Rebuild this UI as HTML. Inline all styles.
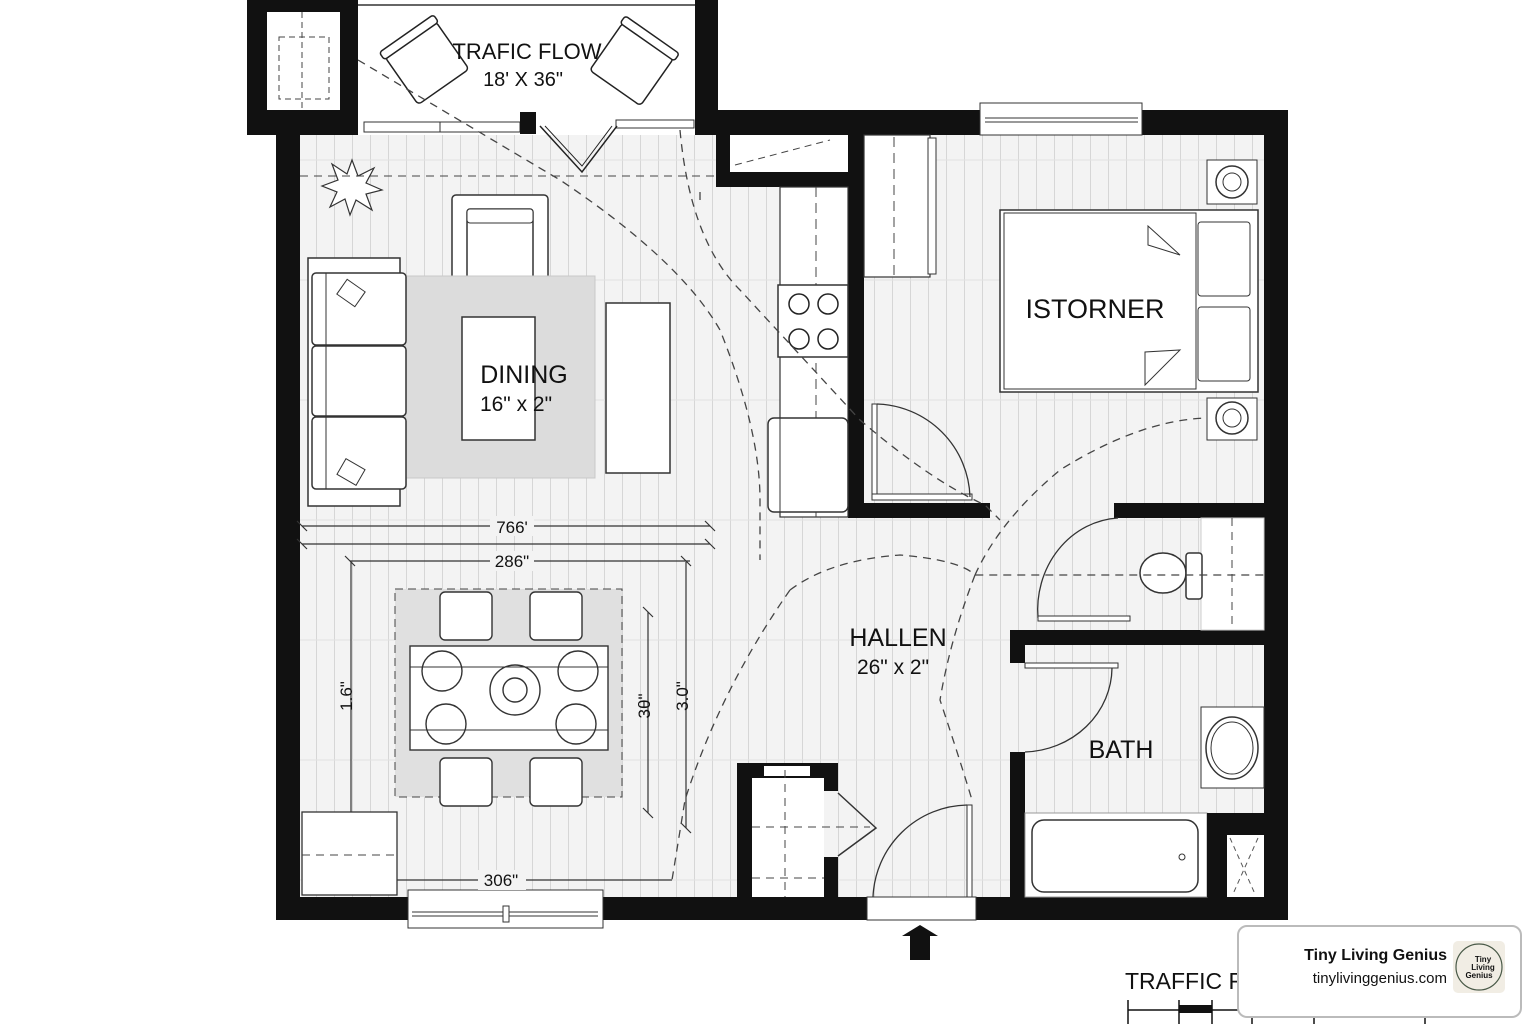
<!DOCTYPE html>
<html><head><meta charset="utf-8"><style>
html,body{margin:0;padding:0;background:#fff;width:1536px;height:1024px;overflow:hidden}
svg{display:block}
text{font-family:"Liberation Sans",sans-serif;fill:#111}
</style></head><body>
<svg width="1536" height="1024" viewBox="0 0 1536 1024" xmlns="http://www.w3.org/2000/svg">
<defs>
<pattern id="pl" x="298" y="0" width="18" height="120" patternUnits="userSpaceOnUse">
<rect width="18" height="120" fill="#f3f3f3"/>
<line x1="0.5" y1="0" x2="0.5" y2="120" stroke="#d6d6d6" stroke-width="1"/>
<line x1="0" y1="40" x2="18" y2="40" stroke="#e2e2e2" stroke-width="1"/>
</pattern>
</defs>
<!-- floor -->
<rect x="298" y="135" width="966" height="762" fill="url(#pl)"/>
<!-- balcony -->
<rect x="358" y="0" width="338" height="112" fill="#fff"/>
<line x1="358" y1="5" x2="696" y2="5" stroke="#333" stroke-width="1.5"/>
<rect x="247" y="0" width="111" height="135" fill="#111"/>
<rect x="267" y="12" width="73" height="98" fill="#fff"/>
<rect x="279" y="37" width="50" height="62" fill="none" stroke="#444" stroke-dasharray="6,4"/>
<line x1="302" y1="12" x2="302" y2="110" stroke="#444" stroke-dasharray="6,4"/>
<rect x="276" y="135" width="24" height="785" fill="#111"/>
<rect x="695" y="0" width="23" height="135" fill="#111"/>
<!-- balcony windows -->
<rect x="358" y="112" width="337" height="23" fill="#fff"/>
<rect x="364" y="122" width="156" height="10" fill="none" stroke="#333"/>
<line x1="440" y1="122" x2="440" y2="132" stroke="#333"/>
<rect x="520" y="112" width="16" height="22" fill="#111"/>
<rect x="616" y="120" width="78" height="8" fill="none" stroke="#333"/>
<path d="M540 126 L582 172 L617 126" fill="none" stroke="#222" stroke-width="1.5"/>
<path d="M545 126 L582 166 L612 126" fill="none" stroke="#222" stroke-width="1"/>
<!-- balcony chairs -->
<g transform="rotate(-35 425 62)"><rect x="395" y="35" width="62" height="58" rx="4" fill="#fff" stroke="#222" stroke-width="1.5"/><rect x="393" y="28" width="66" height="9" rx="3" fill="#fff" stroke="#222" stroke-width="1.5"/></g>
<g transform="rotate(35 632 62)"><rect x="602" y="35" width="62" height="58" rx="4" fill="#fff" stroke="#222" stroke-width="1.5"/><rect x="600" y="28" width="66" height="9" rx="3" fill="#fff" stroke="#222" stroke-width="1.5"/></g>
<text x="527" y="59" font-size="22" text-anchor="middle">TRAFIC FLOW</text>
<text x="523" y="86" font-size="20" text-anchor="middle">18' X 36"</text>
<!-- top walls -->
<rect x="695" y="110" width="285" height="25" fill="#111"/>
<rect x="1140" y="110" width="148" height="25" fill="#111"/>
<rect x="980" y="103" width="162" height="32" fill="#fff" stroke="#333"/>
<line x1="985" y1="118" x2="1138" y2="118" stroke="#333"/><line x1="985" y1="122" x2="1138" y2="122" stroke="#333"/>
<rect x="1264" y="110" width="24" height="810" fill="#111"/>
<!-- closet top -->
<rect x="716" y="135" width="14" height="52" fill="#111"/>
<rect x="716" y="172" width="149" height="15" fill="#111"/>
<rect x="730" y="135" width="118" height="37" fill="#fff"/>
<line x1="735" y1="165" x2="830" y2="140" stroke="#444" stroke-dasharray="7,5"/>
<!-- kitchen/bed wall -->
<rect x="848" y="135" width="16" height="383" fill="#111"/>
<rect x="848" y="503" width="142" height="15" fill="#111"/>
<rect x="1114" y="503" width="150" height="15" fill="#111"/>
<!-- bath walls -->
<rect x="1010" y="630" width="254" height="15" fill="#111"/>
<rect x="1010" y="630" width="15" height="33" fill="#111"/>
<rect x="1010" y="752" width="15" height="168" fill="#111"/>
<rect x="276" y="897" width="1012" height="23" fill="#111"/>
<!-- bottom window and entry -->
<rect x="408" y="890" width="195" height="38" fill="#fff" stroke="#333"/>
<line x1="412" y1="912" x2="598" y2="912" stroke="#333"/><line x1="412" y1="916" x2="598" y2="916" stroke="#333"/>
<rect x="503" y="906" width="6" height="16" fill="#fff" stroke="#333"/>
<rect x="867" y="897" width="109" height="23" fill="#fff" stroke="#333"/>
<path d="M902 936 L920 925 L938 936 L930 936 L930 960 L910 960 L910 936 Z" fill="#111"/>
<!-- plant -->
<g stroke="#333" fill="#fff" stroke-width="1.2">
<path d="M352 160 L358 176 L374 168 L366 183 L382 190 L366 194 L372 210 L356 200 L350 215 L345 199 L330 207 L337 192 L322 186 L338 180 L332 164 L347 174 Z"/>
</g>
<line x1="300" y1="176" x2="720" y2="176" stroke="#444" stroke-dasharray="8,6"/>
<!-- armchair -->
<rect x="452" y="195" width="96" height="90" rx="4" fill="#fff" stroke="#333" stroke-width="1.5"/>
<rect x="467" y="209" width="66" height="76" rx="3" fill="#fff" stroke="#333" stroke-width="1.5"/>
<rect x="467" y="209" width="66" height="14" rx="3" fill="#fff" stroke="#333"/>
<!-- rug -->
<rect x="405" y="276" width="190" height="202" fill="#dcdcdc" stroke="#c8c8c8"/>
<rect x="462" y="317" width="73" height="123" fill="#fff" stroke="#333" stroke-width="1.5"/>
<text x="524" y="383" font-size="25" text-anchor="middle">DINING</text>
<text x="516" y="411" font-size="21" text-anchor="middle">16" x 2"</text>
<rect x="606" y="303" width="64" height="170" fill="#fff" stroke="#333" stroke-width="1.5"/>
<!-- sofa -->
<rect x="308" y="258" width="92" height="248" fill="#fff" stroke="#333" stroke-width="1.5"/>
<rect x="312" y="273" width="94" height="72" rx="4" fill="#fff" stroke="#333" stroke-width="1.5"/>
<rect x="312" y="346" width="94" height="70" rx="4" fill="#fff" stroke="#333" stroke-width="1.5"/>
<rect x="312" y="417" width="94" height="72" rx="4" fill="#fff" stroke="#333" stroke-width="1.5"/>
<line x1="326" y1="273" x2="326" y2="489" stroke="#333"/>
<rect x="340" y="284" width="22" height="18" transform="rotate(35 351 293)" fill="#fff" stroke="#333"/>
<rect x="340" y="463" width="22" height="18" transform="rotate(30 351 472)" fill="#fff" stroke="#333"/>
<!-- kitchen -->
<rect x="780" y="187" width="68" height="330" fill="#fff" stroke="#333" stroke-width="1.2"/>
<line x1="816" y1="187" x2="816" y2="517" stroke="#444" stroke-dasharray="10,6"/>
<rect x="778" y="285" width="70" height="72" fill="#fff" stroke="#333" stroke-width="1.5"/>
<circle cx="799" cy="304" r="10" fill="none" stroke="#222" stroke-width="1.5"/><circle cx="828" cy="304" r="10" fill="none" stroke="#222" stroke-width="1.5"/>
<circle cx="799" cy="339" r="10" fill="none" stroke="#222" stroke-width="1.5"/><circle cx="828" cy="339" r="10" fill="none" stroke="#222" stroke-width="1.5"/>
<rect x="768" y="418" width="80" height="94" rx="6" fill="#fff" stroke="#333" stroke-width="1.5"/>
<line x1="780" y1="418" x2="780" y2="512" stroke="#333"/>
<!-- bedroom wardrobe -->
<rect x="864" y="135" width="66" height="142" fill="#fff" stroke="#333" stroke-width="1.2"/>
<line x1="894" y1="137" x2="894" y2="275" stroke="#444" stroke-dasharray="10,6"/>
<rect x="928" y="138" width="8" height="136" fill="#fff" stroke="#333"/>
<!-- bed -->
<rect x="1000" y="210" width="258" height="182" fill="#fff" stroke="#333" stroke-width="1.5"/>
<rect x="1004" y="213" width="192" height="176" fill="#fff" stroke="#333"/>
<path d="M1148 226 L1148 245 L1180 255 Z M1145 352 L1145 385 L1180 350 Z" fill="#fff" stroke="#333"/>
<rect x="1198" y="222" width="52" height="74" rx="3" fill="#fff" stroke="#333"/>
<rect x="1198" y="307" width="52" height="74" rx="3" fill="#fff" stroke="#333"/>
<text x="1095" y="318" font-size="27" text-anchor="middle">ISTORNER</text>
<rect x="1207" y="160" width="50" height="44" fill="#fff" stroke="#333"/>
<circle cx="1232" cy="182" r="16" fill="#fff" stroke="#333" stroke-width="1.5"/><circle cx="1232" cy="182" r="9" fill="none" stroke="#333"/>
<rect x="1207" y="398" width="50" height="42" fill="#fff" stroke="#333"/>
<circle cx="1232" cy="418" r="16" fill="#fff" stroke="#333" stroke-width="1.5"/><circle cx="1232" cy="418" r="9" fill="none" stroke="#333"/>
<!-- bedroom door -->
<rect x="872" y="404" width="5" height="96" fill="#fff" stroke="#333"/>
<rect x="872" y="494" width="100" height="6" fill="#fff" stroke="#333"/>
<path d="M877 404 A96 96 0 0 1 970 497" fill="none" stroke="#333" stroke-width="1.3"/>
<!-- toilet room -->
<rect x="1201" y="518" width="63" height="112" fill="#fff" stroke="#ccc"/>
<line x1="1232" y1="518" x2="1232" y2="630" stroke="#444" stroke-dasharray="8,6"/>
<ellipse cx="1163" cy="573" rx="23" ry="20" fill="#fff" stroke="#333" stroke-width="1.5"/>
<rect x="1186" y="553" width="16" height="46" rx="3" fill="#fff" stroke="#333" stroke-width="1.5"/>
<path d="M1118 518 A85 92 0 0 0 1038 618" fill="none" stroke="#333" stroke-width="1.3"/>
<rect x="1038" y="616" width="92" height="5" fill="#fff" stroke="#333"/>
<!-- bath -->
<rect x="1025" y="663" width="93" height="5" fill="#fff" stroke="#333"/>
<path d="M1112 668 A90 85 0 0 1 1025 752" fill="none" stroke="#333" stroke-width="1.3"/>
<text x="1121" y="758" font-size="25" text-anchor="middle">BATH</text>
<rect x="1201" y="707" width="63" height="81" fill="#fff" stroke="#333"/>
<ellipse cx="1232" cy="748" rx="26" ry="31" fill="#fff" stroke="#333" stroke-width="1.5"/>
<ellipse cx="1232" cy="748" rx="21" ry="26" fill="none" stroke="#333"/>
<rect x="1025" y="813" width="182" height="84" fill="#fff" stroke="#999"/>
<rect x="1032" y="820" width="166" height="72" rx="12" fill="#fff" stroke="#333" stroke-width="1.5"/>
<circle cx="1182" cy="857" r="3" fill="none" stroke="#333"/>
<rect x="1207" y="813" width="57" height="22" fill="#111"/>
<rect x="1207" y="813" width="20" height="84" fill="#111"/>
<rect x="1227" y="835" width="37" height="62" fill="#fff"/>
<path d="M1230 838 L1255 894 M1258 838 L1233 894" stroke="#555" stroke-dasharray="5,4"/>
<!-- hall closet -->
<rect x="737" y="763" width="15" height="134" fill="#111"/>
<rect x="737" y="763" width="101" height="15" fill="#111"/>
<rect x="764" y="766" width="46" height="10" fill="#fff"/>
<rect x="824" y="763" width="14" height="28" fill="#111"/>
<rect x="824" y="857" width="14" height="40" fill="#111"/>
<rect x="752" y="778" width="72" height="119" fill="#fff"/>
<path d="M838 793 L876 828 L838 856" fill="none" stroke="#333" stroke-width="1.5"/>
<line x1="785" y1="770" x2="785" y2="897" stroke="#444" stroke-dasharray="8,6"/>
<line x1="752" y1="827" x2="870" y2="827" stroke="#444" stroke-dasharray="8,6"/>
<line x1="752" y1="878" x2="824" y2="878" stroke="#444" stroke-dasharray="8,6"/>
<!-- entry door -->
<rect x="967" y="805" width="5" height="92" fill="#fff" stroke="#333"/>
<path d="M967 805 A96 96 0 0 0 873 897" fill="none" stroke="#333" stroke-width="1.3"/>
<text x="898" y="646" font-size="25" text-anchor="middle">HALLEN</text>
<text x="893" y="674" font-size="21" text-anchor="middle">26" x 2"</text>
<!-- dimensions -->
<g stroke="#333" stroke-width="1.2" fill="none">
<line x1="302" y1="526" x2="710" y2="526"/><line x1="302" y1="544" x2="710" y2="544"/>
<line x1="350" y1="561" x2="690" y2="561"/>
<line x1="351" y1="561" x2="351" y2="820"/>
<line x1="686" y1="562" x2="686" y2="828"/>
<line x1="648" y1="612" x2="648" y2="813"/>
<line x1="338" y1="880" x2="672" y2="880"/>
<path d="M297 521 L307 531 M705 521 L715 531 M297 539 L307 549 M705 539 L715 549 M345 556 L355 566 M681 556 L691 566 M643 607 L653 617 M643 808 L653 818 M681 823 L691 833 M338 873 L338 887"/>
</g>
<g font-size="17" text-anchor="middle">
<rect x="490" y="516" width="44" height="20" fill="#f3f3f3"/><text x="512" y="533">766'</text>
<rect x="490" y="551" width="44" height="20" fill="#f3f3f3"/><text x="512" y="567">286"</text>
<rect x="478" y="870" width="48" height="20" fill="#f3f3f3"/><text x="501" y="886">306"</text>
<text transform="translate(352 696) rotate(-90)" text-anchor="middle">1.6"</text>
<text transform="translate(650 706) rotate(-90)" text-anchor="middle">3θ"</text>
<text transform="translate(688 696) rotate(-90)" text-anchor="middle">3.0"</text>
</g>
<!-- dining rug -->
<rect x="395" y="589" width="227" height="208" fill="#e0e0e0" stroke="#444" stroke-dasharray="8,5"/>
<g fill="#fff" stroke="#333" stroke-width="1.4">
<rect x="440" y="592" width="52" height="48" rx="5"/><rect x="530" y="592" width="52" height="48" rx="5"/>
<rect x="440" y="758" width="52" height="48" rx="5"/><rect x="530" y="758" width="52" height="48" rx="5"/>
<rect x="410" y="646" width="198" height="104"/>
<circle cx="442" cy="671" r="20"/><circle cx="578" cy="671" r="20"/>
<circle cx="446" cy="724" r="20"/><circle cx="576" cy="724" r="20"/>
<circle cx="515" cy="690" r="25"/><circle cx="515" cy="690" r="12"/>
</g>
<line x1="410" y1="667" x2="608" y2="667" stroke="#333"/><line x1="410" y1="730" x2="608" y2="730" stroke="#333"/>
<!-- cabinet bottom left -->
<rect x="302" y="812" width="95" height="83" fill="#fff" stroke="#333" stroke-width="1.3"/>
<line x1="302" y1="855" x2="397" y2="855" stroke="#444" stroke-dasharray="8,6"/>
<!-- traffic dashed paths -->
<g fill="none" stroke="#444" stroke-width="1.3" stroke-dasharray="8,6">
<path d="M358 60 L560 180 Q680 260 720 330 Q760 430 760 500 L760 560"/>
<path d="M680 130 Q690 240 740 290 L860 420 Q930 480 985 505 L1000 520"/>
<path d="M700 200 L700 190"/>
<path d="M790 590 Q830 560 900 555 Q960 560 975 575 L1010 575 L1264 575"/>
<path d="M790 590 Q720 690 685 800 L672 880"/>
<path d="M975 575 Q1000 520 1060 470 Q1140 420 1207 418"/>
<path d="M975 575 Q950 640 940 700 Q960 760 972 800"/>
</g>
<!-- scale -->
<text x="1125" y="989" font-size="23">TRAFFIC F</text>
<line x1="1128" y1="1010" x2="1425" y2="1010" stroke="#111" stroke-width="1.5"/>
<rect x="1179" y="1005" width="33" height="8" fill="#111"/><rect x="1252" y="1005" width="62" height="8" fill="#111"/>
<g stroke="#111" stroke-width="1.5"><line x1="1128" y1="1000" x2="1128" y2="1024"/><line x1="1179" y1="1000" x2="1179" y2="1024"/><line x1="1212" y1="1000" x2="1212" y2="1024"/><line x1="1252" y1="1000" x2="1252" y2="1024"/><line x1="1314" y1="1000" x2="1314" y2="1024"/><line x1="1425" y1="1000" x2="1425" y2="1024"/></g>
<text x="1430" y="1018" font-size="23">405</text>
<!-- badge -->
<rect x="1238" y="926" width="283" height="91" rx="9" fill="#fff" stroke="#bbb" stroke-width="2"/>
<text x="1447" y="960" font-size="16" font-weight="bold" text-anchor="end" fill="#333">Tiny Living Genius</text>
<text x="1447" y="983" font-size="15" text-anchor="end" fill="#555">tinylivinggenius.com</text>
<rect x="1453" y="941" width="52" height="52" rx="5" fill="#f1ede4"/>
<circle cx="1479" cy="967" r="23" fill="#f1ede4" stroke="#4a5a48" stroke-width="1.2"/>
<text x="1483" y="962" font-size="8" font-weight="bold" text-anchor="middle" fill="#4a5a48">Tiny</text>
<text x="1483" y="970" font-size="8" font-weight="bold" text-anchor="middle" fill="#4a5a48">Living</text>
<text x="1479" y="978" font-size="8" font-weight="bold" text-anchor="middle" fill="#4a5a48">Genius</text>
</svg>
</body></html>
